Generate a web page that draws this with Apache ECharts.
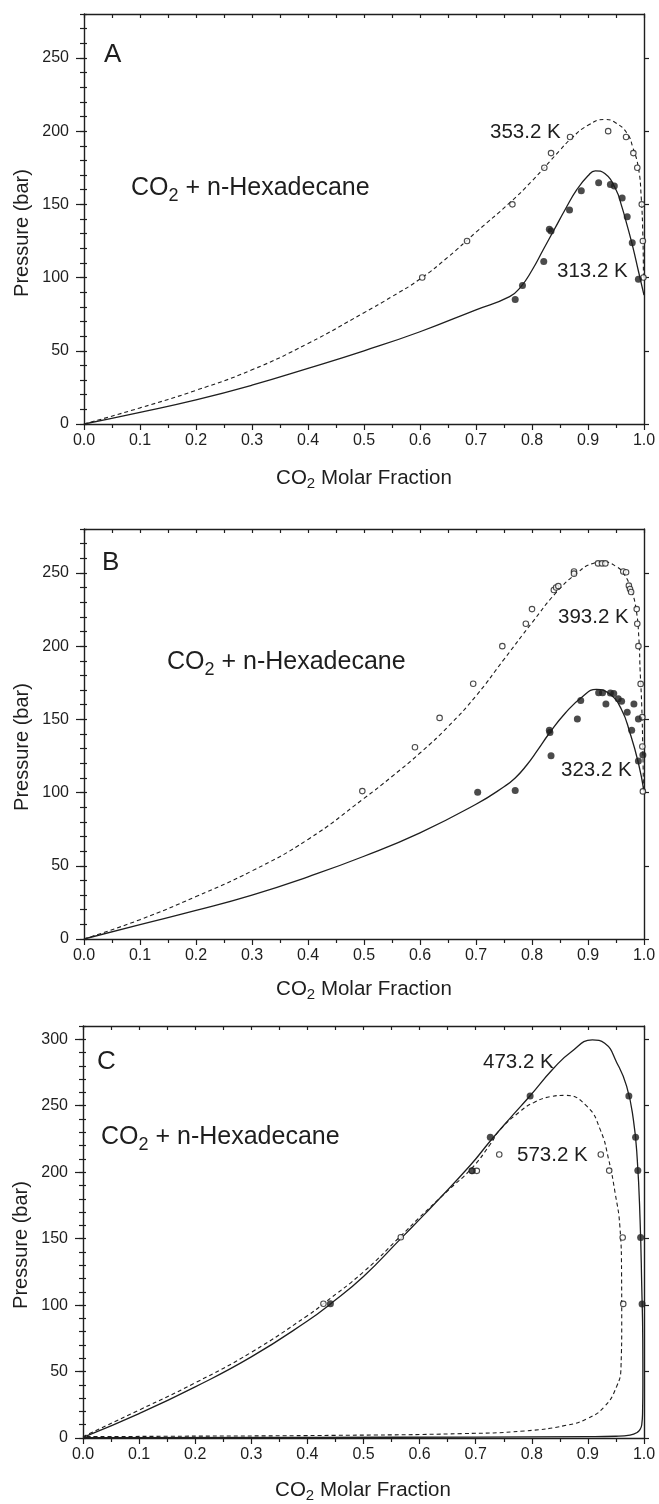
<!DOCTYPE html>
<html>
<head>
<meta charset="utf-8">
<script src="https://cdn.jsdelivr.net/npm/echarts@6/dist/echarts.min.js"></script>
<style>
html,body{margin:0;padding:0;background:#fff;}
#chart{width:659px;height:1504px;}
</style>
</head>
<body>
<div id="chart"></div>
<script>
// ---------------- DATA ----------------
// shared tick values
const xTicks = [0, 0.1, 0.2, 0.3, 0.4, 0.5, 0.6, 0.7, 0.8, 0.9, 1.0];
const yTicksAB = [0, 50, 100, 150, 200, 250];
const yTicksC = [0, 50, 100, 150, 200, 250, 300];

// Panel A : 313.2 K (solid model, filled points), 353.2 K (dashed model, open points)
const aFit313X = [0, 0.1, 0.2, 0.3, 0.4, 0.5, 0.6, 0.7, 0.76, 0.78, 0.8, 0.82, 0.84, 0.86, 0.88, 0.9, 0.913, 0.93, 0.95, 0.96, 0.97, 0.98, 0.99, 1.0];
const aFit313P = [0, 8, 16.5, 26.5, 38, 50, 63, 78, 87, 93.7, 105, 119, 133, 147, 160, 169.5, 172.9, 171, 160, 149, 135.5, 121, 104.5, 88];
const aFit353X = [0, 0.1, 0.2, 0.3, 0.4, 0.5, 0.55, 0.6, 0.65, 0.7, 0.76, 0.8, 0.85, 0.87, 0.9, 0.93, 0.95, 0.97, 0.98, 0.99, 0.995, 0.998, 0.999];
const aFit353P = [0, 11, 23, 37, 55, 76, 87, 99, 114, 131, 151, 166, 187, 195, 204, 208, 205.5, 198.4, 189, 175, 155, 128, 100];
const aExp313X = [0.770, 0.783, 0.821, 0.831, 0.834, 0.867, 0.888, 0.919, 0.940, 0.947, 0.961, 0.970, 0.979, 0.990];
const aExp313P = [85, 94.6, 110.9, 133, 131.8, 146.1, 159.3, 164.8, 163.6, 162.6, 154.3, 141.5, 123.8, 98.8];
const aExp353X = [0.604, 0.684, 0.765, 0.822, 0.834, 0.868, 0.936, 0.968, 0.981, 0.988, 0.996, 0.998, 0.999];
const aExp353P = [100, 125, 150, 175, 185, 196, 200, 196, 185, 175, 150, 125, 100];

// Panel B : 323.2 K (solid, filled), 393.2 K (dashed, open)
const bFit323X = [0, 0.1, 0.2, 0.3, 0.4, 0.5, 0.6, 0.7, 0.75, 0.77, 0.79, 0.81, 0.83, 0.86, 0.89, 0.915, 0.94, 0.96, 0.975, 0.99, 1.0];
const bFit323P = [0, 9.8, 19.5, 30, 42.5, 56.5, 72.5, 92, 104, 110, 118.5, 129, 140, 154.5, 165.5, 170.5, 166.9, 156.6, 140.7, 120.2, 100.8];
const bFit393X = [0, 0.1, 0.2, 0.3, 0.4, 0.5, 0.55, 0.6, 0.65, 0.7, 0.75, 0.8, 0.843, 0.879, 0.909, 0.927, 0.95, 0.965, 0.977, 0.986, 0.991, 0.993, 0.996, 0.998, 0.999];
const bFit393P = [0, 13.2, 29, 46.5, 68, 96, 111, 127, 145, 166, 191, 216, 236.5, 249.5, 256.5, 257.5, 254.5, 248.8, 238.6, 225, 204.4, 184, 158.9, 127, 101];
const bExp323X = [0.703, 0.770, 0.831, 0.832, 0.834, 0.881, 0.887, 0.919, 0.926, 0.932, 0.940, 0.946, 0.954, 0.960, 0.970, 0.982, 0.978, 0.990, 0.990, 0.998];
const bExp323P = [100.2, 101.5, 142.5, 141, 125.2, 150.3, 162.8, 168.2, 168.2, 160.5, 168, 167.7, 164.1, 162.3, 154.8, 160.5, 142.5, 150.3, 121.6, 125.7];
const bExp393X = [0.497, 0.591, 0.635, 0.695, 0.747, 0.789, 0.800, 0.839, 0.843, 0.847, 0.875, 0.875, 0.918, 0.925, 0.931, 0.963, 0.968, 0.973, 0.975, 0.977, 0.987, 0.988, 0.990, 0.994, 0.997, 0.997, 0.998];
const bExp393P = [101, 131, 151, 174.3, 200, 215.3, 225.3, 238.3, 240, 241, 251, 249.5, 256.5, 256.5, 256.5, 251, 250.5, 241.3, 239, 237, 225.3, 215.3, 200, 174.2, 151.5, 131.5, 100.8];

// Panel C : 473.2 K (solid, filled), 573.2 K (dashed, open)
const cFit473X = [0, 0.1, 0.2, 0.3, 0.4, 0.44, 0.5, 0.5665, 0.6, 0.625, 0.69, 0.726, 0.761, 0.797, 0.8385, 0.87, 0.908, 0.93, 0.9515, 0.969, 0.981, 0.988, 0.993, 0.996, 0.9978, 0.998, 0.9975, 0.996, 0.993, 0.988, 0.975, 0.95, 0.9, 0.7, 0.4, 0];
const cFit473P = [0.5, 18.4, 38.5, 61, 88, 100.5, 121.5, 150, 164.5, 175.5, 205, 223.5, 240.5, 257.5, 278, 290.5, 299.5, 297, 282.4, 264.8, 239.7, 209.5, 164.2, 113.9, 73.7, 40, 20, 10, 6.5, 4.2, 2.2, 1.3, 1.0, 0.7, 0.5, 0.3];
const cFit573X = [0, 0.1, 0.2, 0.3, 0.4, 0.43, 0.5, 0.5665, 0.6, 0.65, 0.693, 0.726, 0.7435, 0.78, 0.803, 0.833, 0.859, 0.898, 0.922, 0.937, 0.9485, 0.957, 0.96, 0.9603, 0.959, 0.951, 0.929, 0.899, 0.862, 0.787, 0.675, 0.451, 0.152, 0];
const cFit573P = [1, 21, 41.5, 64.5, 92, 101.5, 125, 152, 166, 186, 203, 221, 232, 246, 252.3, 256.8, 257.8, 249.7, 232, 209.5, 184.4, 159.2, 124, 88.8, 53.5, 38.5, 23.4, 14.6, 9.6, 5.3, 3.3, 2, 1.3, 1];
const cExp473X = [0.441, 0.694, 0.726, 0.797, 0.973, 0.985, 0.989, 0.994, 0.9966];
const cExp473P = [101, 201, 226.3, 257.3, 257.3, 226.3, 201.2, 150.9, 100.9];
const cExp573X = [0.4286, 0.5665, 0.693, 0.702, 0.742, 0.923, 0.938, 0.962, 0.963];
const cExp573P = [101, 151, 201, 201, 213.3, 213.3, 201.2, 150.9, 100.9];

// ---------------- BUILD ----------------
const FONT = '"Liberation Sans", Arial, Helvetica, sans-serif';
const INK = '#1e1e1e';
const zip = (xs, ys) => xs.map((x, i) => [x, ys[i]]);

const panels = [
  { grid: { left: 84, top: 14, width: 560, height: 410 }, ymax: 280, yTicks: yTicksAB,
    solid: zip(aFit313X, aFit313P), dashed: zip(aFit353X, aFit353P),
    filled: zip(aExp313X, aExp313P), open: zip(aExp353X, aExp353P) },
  { grid: { left: 84, top: 529, width: 560, height: 410 }, ymax: 280, yTicks: yTicksAB,
    solid: zip(bFit323X, bFit323P), dashed: zip(bFit393X, bFit393P),
    filled: zip(bExp323X, bExp323P), open: zip(bExp393X, bExp393P) },
  { grid: { left: 83, top: 1026, width: 561, height: 412 }, ymax: 310, yTicks: yTicksC,
    solid: zip(cFit473X, cFit473P), dashed: zip(cFit573X, cFit573P),
    filled: zip(cExp473X, cExp473P), open: zip(cExp573X, cExp573P) }
];

const grids = [], xAxes = [], yAxes = [], series = [];
const lineSt = { color: INK, width: 1.4 };
const tickSt = { color: INK, width: 1.2 };

panels.forEach((p, g) => {
  grids.push(Object.assign({ containLabel: false, outerBoundsMode: 'none' }, p.grid));
  const xCommon = {
    type: 'value', gridIndex: g, min: 0, max: 1, interval: 0.1,
    splitLine: { show: false }, minorSplitLine: { show: false },
    axisLine: { show: true, onZero: false, lineStyle: lineSt }
  };
  xAxes.push(Object.assign({}, xCommon, {
    position: 'bottom',
    axisTick: { show: true, inside: false, length: 6, lineStyle: tickSt },
    minorTick: { show: true, splitNumber: 2, length: 4, lineStyle: tickSt },
    axisLabel: { show: true, customValues: xTicks, formatter: v => v.toFixed(1), fontSize: 16, fontFamily: FONT, color: INK, margin: 9 }
  }));
  xAxes.push(Object.assign({}, xCommon, {
    position: 'top',
    axisTick: { show: true, inside: true, length: 4, lineStyle: tickSt },
    minorTick: { show: true, splitNumber: 2, length: 4, lineStyle: tickSt },
    axisLabel: { show: false }
  }));
  const yCommon = { type: 'value', gridIndex: g, min: 0, max: p.ymax, splitLine: { show: false } };
  yAxes.push(Object.assign({}, yCommon, {
    position: 'left', interval: 50,
    axisLine: { show: true, onZero: false, lineStyle: lineSt },
    axisTick: { show: true, length: 8, customValues: p.yTicks, lineStyle: tickSt },
    axisLabel: { show: true, customValues: p.yTicks, fontSize: 16, fontFamily: FONT, color: INK, margin: 15 }
  }));
  yAxes.push(Object.assign({}, yCommon, {
    position: 'left', interval: 10,
    axisLine: { show: false },
    axisTick: { show: true, length: 4, lineStyle: tickSt },
    axisLabel: { show: false }
  }));
  yAxes.push(Object.assign({}, yCommon, {
    position: 'right', interval: 50,
    axisLine: { show: true, onZero: false, lineStyle: lineSt },
    axisTick: { show: true, length: 5, customValues: p.yTicks, lineStyle: tickSt },
    axisLabel: { show: false }
  }));
  yAxes.push(Object.assign({}, yCommon, {
    position: 'right', interval: 10,
    axisLine: { show: false },
    axisTick: { show: true, length: 3, lineStyle: tickSt },
    axisLabel: { show: false }
  }));

  const xi = 2 * g, yi = 4 * g;
  series.push({
    type: 'line', xAxisIndex: xi, yAxisIndex: yi, data: p.dashed, showSymbol: false, smooth: 0.5,
    lineStyle: { color: INK, width: 1.1, type: [4, 3] }, silent: true, z: 2
  });
  series.push({
    type: 'line', xAxisIndex: xi, yAxisIndex: yi, data: p.solid, showSymbol: false, smooth: 0.5,
    lineStyle: { color: INK, width: 1.3, type: 'solid' }, silent: true, z: 2
  });
  series.push({
    type: 'scatter', xAxisIndex: xi, yAxisIndex: yi, data: p.open, symbol: 'circle', symbolSize: 5.5,
    itemStyle: { color: '#fff', borderColor: INK, borderWidth: 1.1 }, silent: true, z: 3
  });
  series.push({
    type: 'scatter', xAxisIndex: xi, yAxisIndex: yi, data: p.filled, symbol: 'circle', symbolSize: 7,
    itemStyle: { color: INK }, silent: true, z: 4
  });
});

// ---------------- TEXT ----------------
function txt(x, y, text, size, opts) {
  return Object.assign({
    type: 'text', x: x, y: y, silent: true, z: 10,
    style: { text: text, fontSize: size, fontFamily: FONT, fill: INK,
      align: 'left', textAlign: 'left', verticalAlign: 'middle', textVerticalAlign: 'middle' }
  }, opts || {});
}
function co2(x, y, rest, size, subSize, align) {
  const lh = Math.round(size * 1.34);
  return {
    type: 'text', x: x, y: y, silent: true, z: 10,
    style: {
      text: '{m|CO}{s|2}{m|' + rest + '}',
      align: align, textAlign: align, verticalAlign: 'middle', textVerticalAlign: 'middle',
      rich: {
        m: { fontSize: size, fontFamily: FONT, fill: INK, color: INK, lineHeight: lh },
        s: { fontSize: subSize, fontFamily: FONT, fill: INK, color: INK, lineHeight: subSize, verticalAlign: 'bottom' }
      }
    }
  };
}
function yName(x, y) {
  return {
    type: 'text', x: x, y: y, rotation: Math.PI / 2, silent: true, z: 10,
    style: { text: 'Pressure (bar)', fontSize: 20, fontFamily: FONT, fill: INK,
      align: 'center', textAlign: 'center', verticalAlign: 'middle', textVerticalAlign: 'middle' }
  };
}

const graphics = [
  // Panel A
  txt(104, 55, 'A', 26),
  co2(131, 188, ' + n-Hexadecane', 25, 18, 'left'),
  txt(490, 132, '353.2 K', 20.5),
  txt(557, 271, '313.2 K', 20.5),
  yName(22, 233),
  co2(364, 478, ' Molar Fraction', 20.5, 15, 'center'),
  // Panel B
  txt(102, 563, 'B', 26),
  co2(167, 662, ' + n-Hexadecane', 25, 18, 'left'),
  txt(558, 617, '393.2 K', 20.5),
  txt(561, 770, '323.2 K', 20.5),
  yName(22, 747),
  co2(364, 989, ' Molar Fraction', 20.5, 15, 'center'),
  // Panel C
  txt(97, 1062, 'C', 26),
  co2(101, 1137, ' + n-Hexadecane', 25, 18, 'left'),
  txt(483, 1062, '473.2 K', 20.5),
  txt(517, 1155, '573.2 K', 20.5),
  yName(21, 1245),
  co2(363, 1490, ' Molar Fraction', 20.5, 15, 'center')
];

const chart = echarts.init(document.getElementById('chart'), null, { renderer: 'canvas' });
chart.setOption({
  backgroundColor: '#ffffff',
  animation: false,
  grid: grids,
  xAxis: xAxes,
  yAxis: yAxes,
  series: series,
  graphic: graphics
});
</script>
</body>
</html>
